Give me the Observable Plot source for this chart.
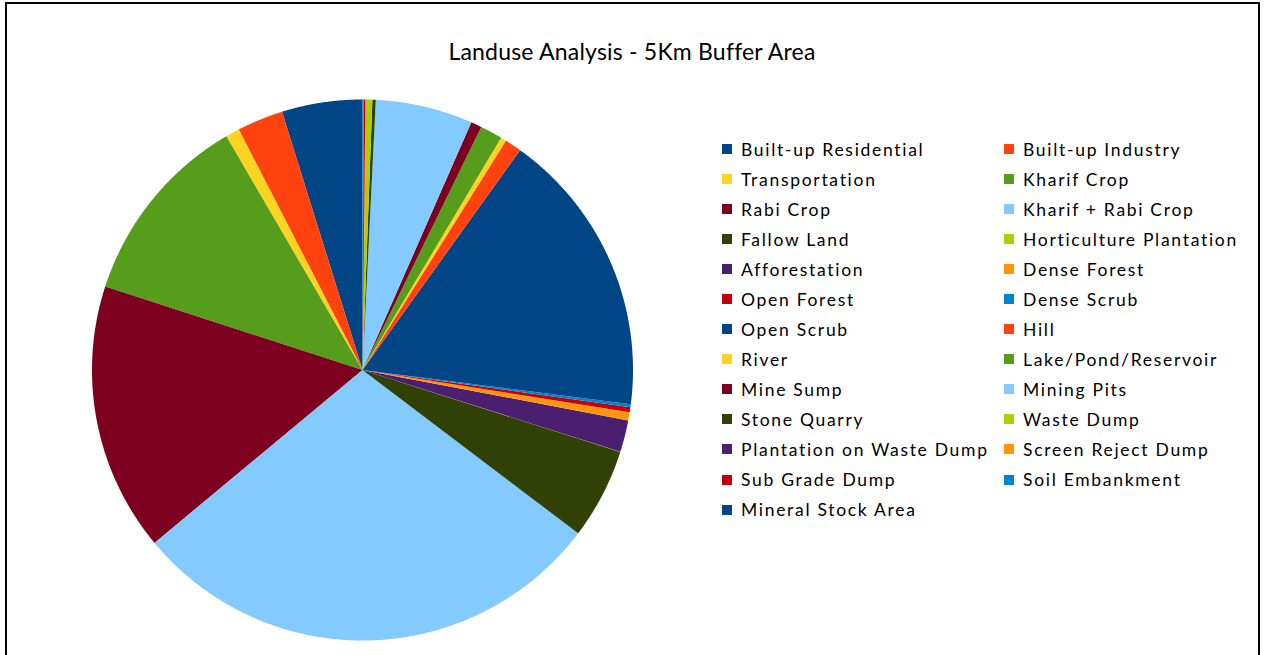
<!DOCTYPE html>
<html>
<head>
<meta charset="utf-8">
<script src="https://cdn.jsdelivr.net/npm/d3@7"></script>
<script src="https://cdn.jsdelivr.net/npm/@observablehq/plot@0.6"></script>
<style>
  html, body { margin: 0; padding: 0; background: #fff; }
  #wrap { position: relative; width: 1266px; height: 655px; overflow: hidden; font-family: Lato, "Open Sans", sans-serif; }
  #frame { position: absolute; left: 5px; top: 2px; width: 1251px; height: 700px; border: 2px solid #000; border-bottom: none; }
  #title { position: absolute; left: 0; width: 1264px; top: 37px; text-align: center; font-size: 23px; letter-spacing: 0.2px; color: #000; }
  #chart { position: absolute; left: 0; top: 0; }
  #legend { position: absolute; left: 722px; top: 139px; display: grid; grid-template-columns: 282px 260px; grid-auto-rows: 30.05px; }
  .item { display: flex; align-items: center; height: 20px; font-size: 17.5px; letter-spacing: 1.7px; color: #000; white-space: nowrap; }
  .sw { width: 10px; height: 10px; margin-right: 9px; flex: none; }
</style>
</head>
<body>
<div id="wrap">
  <div id="chart"></div>
  <div id="frame"></div>
  <div id="title">Landuse Analysis - 5Km Buffer Area</div>
  <div id="legend"></div>
</div>
<script>
const categories = [
  "Built-up Residential", "Built-up Industry", "Transportation", "Kharif Crop",
  "Rabi Crop", "Kharif + Rabi Crop", "Fallow Land", "Horticulture Plantation",
  "Afforestation", "Dense Forest", "Open Forest", "Dense Scrub",
  "Open Scrub", "Hill", "River", "Lake/Pond/Reservoir",
  "Mine Sump", "Mining Pits", "Stone Quarry", "Waste Dump",
  "Plantation on Waste Dump", "Screen Reject Dump", "Sub Grade Dump", "Soil Embankment",
  "Mineral Stock Area"
];
// percent share of buffer area
const values = [
  4.8, 2.75, 0.83, 11.6,
  16.0, 28.6, 5.4, 0.02,
  1.9, 0.49, 0.3, 0.17,
  17.1, 1.0, 0.33, 1.33,
  0.64, 5.8, 0.2, 0.35,
  0.01, 0.05, 0.1, 0.06,
  0.01
];
const palette = ["#004586", "#ff420e", "#ffd320", "#579d1c", "#7e0021", "#83caff",
                 "#314004", "#aecf00", "#4b1f6f", "#ff950e", "#c5000b", "#0084d1"];

const colors = categories.map((c, i) => palette[i % palette.length]);

// pie layout: slices start at 12 o'clock and run counter-clockwise
const arcs = d3.pie().sort(null).value(d => d)(values);
const features = arcs.map((a, i) => {
  const ring = [[0, 0]];
  const n = Math.max(2, Math.ceil((a.endAngle - a.startAngle) / 0.005));
  for (let k = 0; k <= n; k++) {
    const t = a.startAngle + (a.endAngle - a.startAngle) * k / n;
    ring.push([-Math.sin(t), Math.cos(t)]);
  }
  ring.push([0, 0]);
  return {type: "Feature", properties: {category: categories[i]}, geometry: {type: "Polygon", coordinates: [ring]}};
});

const square = {type: "Polygon", coordinates: [[[-1, -1], [1, -1], [1, 1], [-1, 1], [-1, -1]]]};

const chart = Plot.plot({
  width: 1266,
  height: 655,
  marginLeft: 91,
  marginRight: 633,
  marginTop: 99,
  marginBottom: 15,
  projection: {type: "reflect-y", domain: square},
  color: {type: "ordinal", domain: categories, range: colors},
  marks: [
    Plot.geo(features, {fill: d => d.properties.category})
  ]
});
document.getElementById("chart").appendChild(chart);

const legend = document.getElementById("legend");
categories.forEach((c, i) => {
  const item = document.createElement("div");
  item.className = "item";
  const sw = document.createElement("span");
  sw.className = "sw";
  sw.style.background = colors[i];
  const label = document.createElement("span");
  label.textContent = c;
  item.appendChild(sw);
  item.appendChild(label);
  legend.appendChild(item);
});
</script>
</body>
</html>
